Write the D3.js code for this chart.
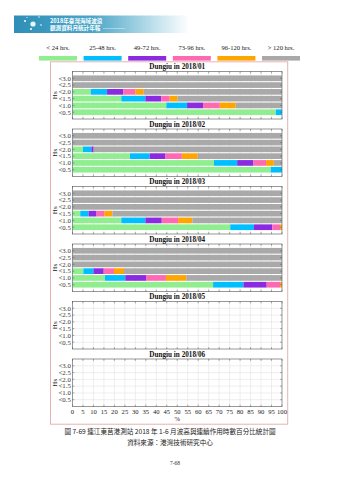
<!DOCTYPE html>
<html><head><meta charset="utf-8">
<script src="https://cdn.jsdelivr.net/npm/d3@7/dist/d3.min.js"></script>
<style>html,body{margin:0;padding:0;background:#fff;}svg{display:block;}</style>
</head><body>
<script>
const hsLevels = ["<3.0","<2.5","<2.0","<1.5","<1.0","<0.5"];
const durationClasses = ["< 24 hrs.","25-48 hrs.","49-72 hrs.","73-96 hrs.","96-120 hrs.","> 120 hrs."];
const classColors = ["#90ee90","#00bfff","#8a2be2","#ff69b4","#ffa500","#a9a9a9"];
const months = ["2018/01","2018/02","2018/03","2018/04","2018/05","2018/06"];
const xTicks = d3.range(0, 101, 5);
// percentages per Hs level (rows) for each duration class
const jan2018 = [[0,0,0,0,0,100],[0,0,0,0,0,100],[8.7,7.8,7.8,5.7,4.0,66.0],[23.3,11.5,7.6,4.0,3.7,49.9],[44.8,9.9,7.6,8.0,7.6,22.1],[97.1,2.9,0,0,0,0]];
const feb2018 = [[0,0,0,0,0,100],[0,0,0,0,0,100],[5.0,4.0,1.1,0,0,89.9],[27.4,9.4,7.6,7.8,7.6,40.2],[67.5,11.1,7.8,6.0,3.7,3.9],[94.6,5.4,0,0,0,0]];
const mar2018 = [[0,0,0,0,0,100],[0,0,0,0,0,100],[0,0,0,0,0,100],[3.7,4.0,3.8,3.8,3.7,81.0],[23.3,11.5,7.8,7.8,6.8,42.8],[75.3,11.3,8.8,3.7,0.9,0]];
const apr2018 = [[0,0,0,0,0,100],[0,0,0,0,0,100],[0,0,0,0,0,100],[5.2,4.8,4.9,4.9,4.8,75.4],[15.5,9.7,9.9,9.5,9.7,45.7],[67.1,14.5,11.1,6.4,0.9,0]];
const may2018 = null;
const jun2018 = null;
const monthData = [jan2018, feb2018, mar2018, apr2018, may2018, jun2018];

const W = 339, H = 480;
const svg = d3.select("body").append("svg").attr("width", W).attr("height", H);
svg.append("rect").attr("width", W).attr("height", H).attr("fill", "#fff");

// header banner
const defs = svg.append("defs");
const grad = defs.append("linearGradient").attr("id","bn").attr("x1","0").attr("x2","1");
grad.append("stop").attr("offset","0").attr("stop-color","#2f8fb8");
grad.append("stop").attr("offset","0.45").attr("stop-color","#4aa6c8");
grad.append("stop").attr("offset","0.8").attr("stop-color","#bfe0ec");
grad.append("stop").attr("offset","1").attr("stop-color","#ffffff");
svg.append("rect").attr("x",14).attr("y",15.5).attr("width",175).attr("height",17.5).attr("fill","url(#bn)");
[[25,21,1],[39,17,0.7],[41,25,0.8],[31,29,1],[27,17.5,0.6]].forEach(d=>{
  svg.append("circle").attr("cx",d[0]).attr("cy",d[1]).attr("r",d[2]).attr("fill","#fff");
});
svg.append("circle").attr("cx",33).attr("cy",24).attr("r",2.6).attr("fill","#fff").attr("opacity",0.9);
svg.append("text").attr("x",50).attr("y",22.5).attr("fill","#fff")
  .style("font-family","'Noto Sans CJK TC'").style("font-size","5.6px").style("font-weight","bold")
  .text("2018年臺灣海域波浪");
svg.append("text").attr("x",50).attr("y",29.6).attr("fill","#fff")
  .style("font-family","'Noto Sans CJK TC'").style("font-size","5.6px").style("font-weight","bold")
  .text("觀測資料月統計年報");
svg.append("line").attr("x1",103).attr("x2",125).attr("y1",28.5).attr("y2",28.5).attr("stroke","#fff").attr("stroke-width",0.4);

// legend
const legX = d3.scalePoint().domain(durationClasses).range([58, 281]);
const leg = svg.append("g");
durationClasses.forEach((c,i)=>{
  leg.append("text").attr("x",legX(c)).attr("y",49.5).attr("text-anchor","middle")
    .style("font-family","'Liberation Serif'").style("font-size","6.6px").attr("fill","#222").text(c);
  leg.append("rect").attr("x",legX(c)-19).attr("y",56).attr("width",38).attr("height",4.6).attr("fill",classColors[i]);
});

// outer pink frame
svg.append("rect").attr("x",50.5).attr("y",61.8).attr("width",237.2).attr("height",362.4)
  .attr("fill","none").attr("stroke","#e6b3b3").attr("stroke-width",1);

const x = d3.scaleLinear().domain([0,100]).range([72.5,282]);
const panelH = 47.5, panelStep = 57.5, firstTop = 71.5;

months.forEach((m, pi) => {
  const top = firstTop + pi*panelStep;
  const y = d3.scaleLinear().domain([0,7]).range([top, top+panelH]);
  const rowY = (i) => y(i+1);
  const g = svg.append("g");
  // grid
  g.selectAll(".vg").data(xTicks.slice(1,-1)).enter().append("line")
    .attr("x1",d=>x(d)).attr("x2",d=>x(d)).attr("y1",top).attr("y2",top+panelH)
    .attr("stroke","#e3e3e3").attr("stroke-width",0.6);
  g.selectAll(".hg").data(hsLevels).enter().append("line")
    .attr("x1",x(0)).attr("x2",x(100)).attr("y1",(d,i)=>rowY(i)).attr("y2",(d,i)=>rowY(i))
    .attr("stroke","#e3e3e3").attr("stroke-width",0.6);
  // bars
  const data = monthData[pi];
  if (data) {
    data.forEach((row, ri) => {
      let acc = 0;
      const bh = (y(0.84)-y(0));
      row.forEach((v, ci) => {
        if (v > 0) {
          g.append("rect").attr("x",x(acc)).attr("width",x(acc+v)-x(acc))
            .attr("y",rowY(ri)-bh/2).attr("height",bh).attr("fill",classColors[ci]);
        }
        acc += v;
      });
    });
  }
  // frame
  g.append("rect").attr("x",x(0)).attr("y",top).attr("width",x(100)-x(0)).attr("height",panelH)
    .attr("fill","none").attr("stroke","#6a6a6a").attr("stroke-width",0.7);
  // ticks
  const tk = 1.8;
  xTicks.forEach(t=>{
    g.append("line").attr("x1",x(t)).attr("x2",x(t)).attr("y1",top).attr("y2",top+tk).attr("stroke","#555").attr("stroke-width",0.5);
    g.append("line").attr("x1",x(t)).attr("x2",x(t)).attr("y1",top+panelH).attr("y2",top+panelH-tk).attr("stroke","#555").attr("stroke-width",0.5);
  });
  hsLevels.forEach((h,i)=>{
    g.append("line").attr("x1",x(0)).attr("x2",x(0)+tk).attr("y1",rowY(i)).attr("y2",rowY(i)).attr("stroke","#555").attr("stroke-width",0.5);
    g.append("line").attr("x1",x(100)).attr("x2",x(100)-tk).attr("y1",rowY(i)).attr("y2",rowY(i)).attr("stroke","#555").attr("stroke-width",0.5);
    g.append("text").attr("x",70.8).attr("y",rowY(i)+2.3).attr("text-anchor","end")
      .style("font-family","'Liberation Serif'").style("font-size","6.8px").attr("fill","#333").text(h);
  });
  // title
  g.append("text").attr("x",(x(0)+x(100))/2).attr("y",top-2.2).attr("text-anchor","middle")
    .style("font-family","'Liberation Serif'").style("font-size","7.2px").style("font-weight","bold")
    .attr("fill","#111").text("Dungiu in " + m);
  // y label
  g.append("text").attr("transform",`translate(56.5,${top+panelH/2}) rotate(-90)`).attr("text-anchor","middle")
    .style("font-family","'Liberation Serif'").style("font-size","7px").attr("fill","#222").text("Hs");
  // x labels on last panel
  if (pi === months.length-1) {
    g.selectAll(".xl").data(xTicks).enter().append("text")
      .attr("x",d=>x(d)).attr("y",top+panelH+7.5).attr("text-anchor","middle")
      .style("font-family","'Liberation Serif'").style("font-size","6.6px").attr("fill","#222").text(d=>d);
    g.append("text").attr("x",(x(0)+x(100))/2).attr("y",top+panelH+14.5).attr("text-anchor","middle")
      .style("font-family","'Liberation Serif'").style("font-size","6.6px").attr("fill","#222").text("%");
  }
});

// captions
const cap = (t, yy, fs) => svg.append("text").attr("x",170).attr("y",yy).attr("text-anchor","middle")
  .style("font-family","'Noto Sans CJK TC'").style("font-size",fs).attr("fill","#222").text(t);
cap("圖 7-69  連江東莒港測站 2018 年 1-6 月波高與連續作用時數百分比統計圖", 434, "6.6px");
cap("資料來源：港灣技術研究中心", 445, "6.6px");
svg.append("text").attr("x",175).attr("y",465).attr("text-anchor","middle")
  .style("font-family","'Liberation Serif'").style("font-size","5.5px").attr("fill","#333").text("7-68");
</script>
</body></html>
